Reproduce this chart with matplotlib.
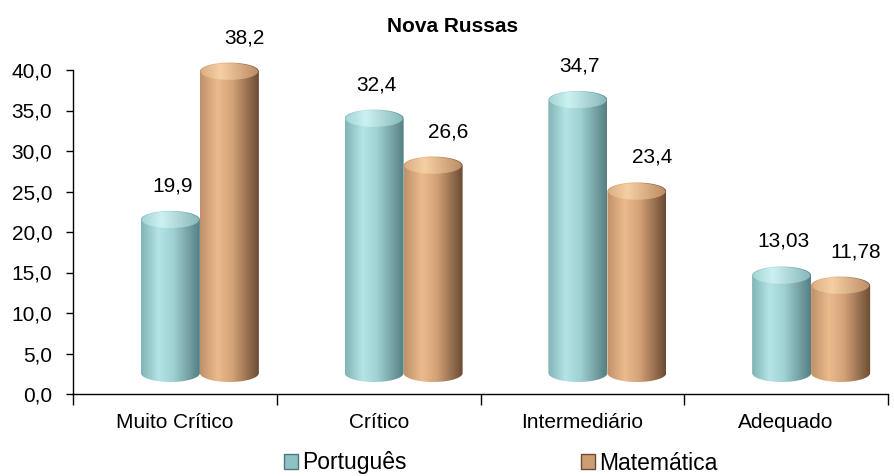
import numpy as np
import matplotlib
matplotlib.use('Agg')
import matplotlib.pyplot as plt
from matplotlib.path import Path
from matplotlib.patches import PathPatch, Ellipse, Patch
from matplotlib.colors import to_rgb

# ---------------- data ----------------
categories = ['Muito Crítico', 'Crítico', 'Intermediário', 'Adequado']
series_names = ['Português', 'Matemática']
portugues = [19.9, 32.4, 34.7, 13.03]
matematica = [38.2, 26.6, 23.4, 11.78]
labels_portugues = ['19,9', '32,4', '34,7', '13,03']
labels_matematica = ['38,2', '26,6', '23,4', '11,78']
yticks = [0, 5, 10, 15, 20, 25, 30, 35, 40]
ytick_labels = ['0,0', '5,0', '10,0', '15,0', '20,0', '25,0', '30,0', '35,0', '40,0']
title = 'Nova Russas'

# ---------------- style ----------------
plt.rcParams['font.family'] = ['Liberation Sans', 'DejaVu Sans']
W, H = 894, 476
fig = plt.figure(figsize=(W / 100, H / 100), dpi=100)
fig.patch.set_facecolor('white')

ax_left, ax_right, ax_bottom_px = 73, 888, 394
px_per_unit = 8.1
ymax = 46
ax = fig.add_axes([ax_left / W, (H - ax_bottom_px) / H,
                   (ax_right - ax_left) / W, ymax * px_per_unit / H])
ax.set_xlim(-0.5, 3.5)
ax.set_ylim(0, ymax)
ax.patch.set_visible(False)

dxp = 4.0 / (ax_right - ax_left)   # data units per px (x)
dyp = 1.0 / px_per_unit             # data units per px (y)

teal_stops = [(0.0, '#80b4b6'), (0.30, '#b6e4e5'), (0.55, '#9fd0d2'), (1.0, '#557f82')]
tan_stops = [(0.0, '#c0906a'), (0.30, '#ebbb8c'), (0.55, '#d4a277'), (1.0, '#6a4b33')]
teal_cap = [(0.0, '#a2d4d5'), (0.35, '#cdf1f1'), (1.0, '#86b7b9')]
tan_cap = [(0.0, '#dcac81'), (0.35, '#f5d0a4'), (1.0, '#bb8b63')]
label_dx_px = [2, 15]
label_dy_px = 47
fs_tick = 15
fs_title = 15
fs_legend = 16.5


def gradient(stops, n=200):
    t = np.linspace(0, 1, n)
    pos = [s[0] for s in stops]
    cols = np.array([to_rgb(s[1]) for s in stops])
    img = np.stack([np.interp(t, pos, cols[:, k]) for k in range(3)], axis=-1)
    return img[np.newaxis, :, :]


def cylinder(xc, v, stops, cap):
    half = 29.5 * dxp
    b = 9 * dyp
    bot_c = 21 * dyp
    top_c = v + 13 * dyp
    t1 = np.linspace(0, np.pi, 60)
    t2 = np.linspace(np.pi, 2 * np.pi, 60)
    xs = np.concatenate([xc + half * np.cos(t1), xc + half * np.cos(t2)])
    ys = np.concatenate([top_c + b * np.sin(t1), bot_c + b * np.sin(t2)])
    verts = np.column_stack([xs, ys])
    path = Path(np.vstack([verts, verts[:1]]), closed=True)
    patch = PathPatch(path, facecolor='none', edgecolor='none', transform=ax.transData)
    ax.add_patch(patch)
    im = ax.imshow(gradient(stops), extent=(xc - half, xc + half, bot_c - b, top_c + b),
                   aspect='auto', interpolation='bilinear', zorder=2)
    im.set_clip_path(patch)
    # top cap
    ell = Ellipse((xc, top_c), 2 * half * 0.97, 2 * b * 0.92, facecolor='none',
                  edgecolor='none', transform=ax.transData)
    ax.add_patch(ell)
    im2 = ax.imshow(gradient(cap), extent=(xc - half, xc + half, top_c - b, top_c + b),
                    aspect='auto', interpolation='bilinear', zorder=3)
    im2.set_clip_path(ell)


bar_w = 59 * dxp
shift = 25 * dxp
x = np.arange(len(categories))
for i in range(len(categories)):
    xt = x[i] + shift - bar_w / 2
    xm = x[i] + shift + bar_w / 2
    cylinder(xt, portugues[i], teal_stops, teal_cap)
    cylinder(xm, matematica[i], tan_stops, tan_cap)
    ax.annotate(labels_portugues[i], (xt, portugues[i]),
                xytext=(label_dx_px[0] * 0.72, label_dy_px * 0.72),
                textcoords='offset points', ha='center', va='center', fontsize=fs_tick)
    ax.annotate(labels_matematica[i], (xm, matematica[i]),
                xytext=(label_dx_px[1] * 0.72, label_dy_px * 0.72),
                textcoords='offset points', ha='center', va='center', fontsize=fs_tick)

# axes
for s in ['top', 'right']:
    ax.spines[s].set_visible(False)
ax.spines['left'].set_bounds(0, 40)
ax.spines['left'].set_linewidth(1.0)
ax.spines['bottom'].set_linewidth(1.0)
ax.set_yticks(yticks)
ax.set_yticklabels(ytick_labels)
ax.tick_params(axis='y', direction='out', length=5, width=1, pad=10, labelsize=fs_tick)
ax.set_xticks(x)
ax.set_xticklabels(categories)
ax.tick_params(axis='x', which='major', length=0, pad=14, labelsize=fs_tick)
ax.set_xticks(np.arange(-0.5, 4.0, 1.0), minor=True)
ax.tick_params(axis='x', which='minor', direction='out', length=8, width=1)

fig.text(453 / W, 1 - 27 / H, title, ha='center', va='center', fontsize=fs_title,
         fontweight='bold')

handles = [Patch(facecolor='#8fc2c4', edgecolor='#4f7779'),
           Patch(facecolor='#cf9d72', edgecolor='#6a4b33')]
fig.legend(handles, series_names, loc='center', bbox_to_anchor=(501 / W, 1 - 463 / H),
           ncol=2, frameon=False, fontsize=fs_legend, handlelength=0.6, handleheight=0.6,
           handletextpad=0.2, columnspacing=7.6, borderpad=0.1)

fig.savefig('out.png', dpi=100)
